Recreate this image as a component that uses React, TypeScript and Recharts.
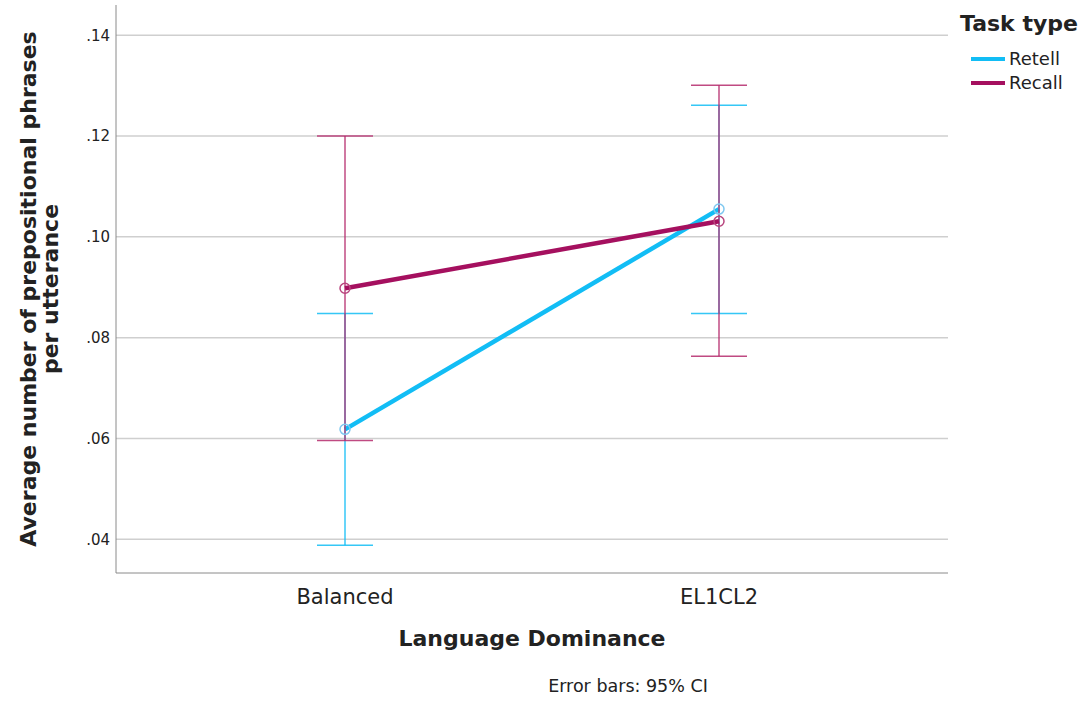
import { LineChart, Line, XAxis, YAxis, CartesianGrid, ErrorBar } from 'recharts'

const categories = ['Balanced', 'EL1CL2']
const retellMean = [0.0618, 0.1055]
const retellLow = [0.0388, 0.0848]
const retellHigh = [0.0848, 0.1261]
const recallMean = [0.0898, 0.1031]
const recallLow = [0.0596, 0.0763]
const recallHigh = [0.12, 0.1301]
const yTicks = [0.04, 0.06, 0.08, 0.1, 0.12, 0.14]

const RETELL = '#12bdf5'
const RECALL = '#a5105f'
const FONT = '"DejaVu Sans", sans-serif'

const data = categories.map((c, i) => ({
  name: c,
  retell: retellMean[i],
  retellErr: [retellMean[i] - retellLow[i], retellHigh[i] - retellMean[i]],
  recall: recallMean[i],
  recallErr: [recallMean[i] - recallLow[i], recallHigh[i] - recallMean[i]],
}))

export default function App() {
  return (
    <div style={{ position: 'absolute', left: 0, top: 0, width: 1084, height: 703, background: '#fff', fontFamily: FONT }}>
      <LineChart width={1084} height={703} data={data} margin={{ top: 5, right: 136, left: 76, bottom: 100 }}>
        <CartesianGrid vertical={false} horizontalValues={yTicks} stroke="#cfcfcf" strokeWidth={1.5} />
        <XAxis
          dataKey="name"
          padding={{ left: 229, right: 229 }}
          height={30}
          tickLine={false}
          tickMargin={10}
          stroke="#8a8a8a"
          tick={{ fill: '#222', fontSize: 21, fontFamily: FONT }}
        />
        <YAxis
          width={40}
          domain={[0.0333, 0.146]}
          allowDataOverflow
          ticks={yTicks}
          tickFormatter={(v: number) => v.toFixed(2).replace(/^0/, '')}
          tickLine={false}
          tickSize={0}
          tickMargin={6}
          stroke="#8a8a8a"
          tick={{ fill: '#222', fontSize: 15, fontFamily: FONT }}
        />
        <Line
          dataKey="retell"
          stroke={RETELL}
          strokeWidth={4.5}
          dot={{ r: 5, fill: 'none', stroke: '#7fc8f0', strokeWidth: 1.5 }}
          activeDot={false}
          isAnimationActive={false}
        >
          <ErrorBar dataKey="retellErr" direction="y" width={28} stroke={RETELL} strokeWidth={1.5} strokeOpacity={0.85} />
        </Line>
        <Line
          dataKey="recall"
          stroke={RECALL}
          strokeWidth={4.5}
          dot={{ r: 5, fill: 'none', stroke: '#b8457e', strokeWidth: 1.5 }}
          activeDot={false}
          isAnimationActive={false}
        >
          <ErrorBar dataKey="recallErr" direction="y" width={28} stroke="#b52a6c" strokeWidth={1.5} strokeOpacity={0.85} />
        </Line>
      </LineChart>

      <div style={{ position: 'absolute', left: -260, top: 267, width: 600, textAlign: 'center', transform: 'rotate(-90deg)', fontWeight: 'bold', fontSize: 22, lineHeight: '22px', color: '#222' }}>
        Average number of prepositional phrases
        <br />
        per utterance
      </div>
      <div style={{ position: 'absolute', left: 332, top: 626, width: 400, textAlign: 'center', fontWeight: 'bold', fontSize: 22, color: '#222' }}>
        Language Dominance
      </div>
      <div style={{ position: 'absolute', left: 528, top: 676, width: 200, textAlign: 'center', fontSize: 17.5, color: '#222' }}>
        Error bars: 95% CI
      </div>

      <div style={{ position: 'absolute', left: 960, top: 11, fontWeight: 'bold', fontSize: 22, color: '#222' }}>Task type</div>
      {[
        { label: 'Retell', color: RETELL, top: 48 },
        { label: 'Recall', color: RECALL, top: 72 },
      ].map((it) => (
        <div key={it.label} style={{ position: 'absolute', left: 971, top: it.top, display: 'flex', alignItems: 'center', fontSize: 18, color: '#222' }}>
          <span style={{ display: 'inline-block', width: 34, height: 4, background: it.color, marginRight: 4 }} />
          {it.label}
        </div>
      ))}
    </div>
  )
}
